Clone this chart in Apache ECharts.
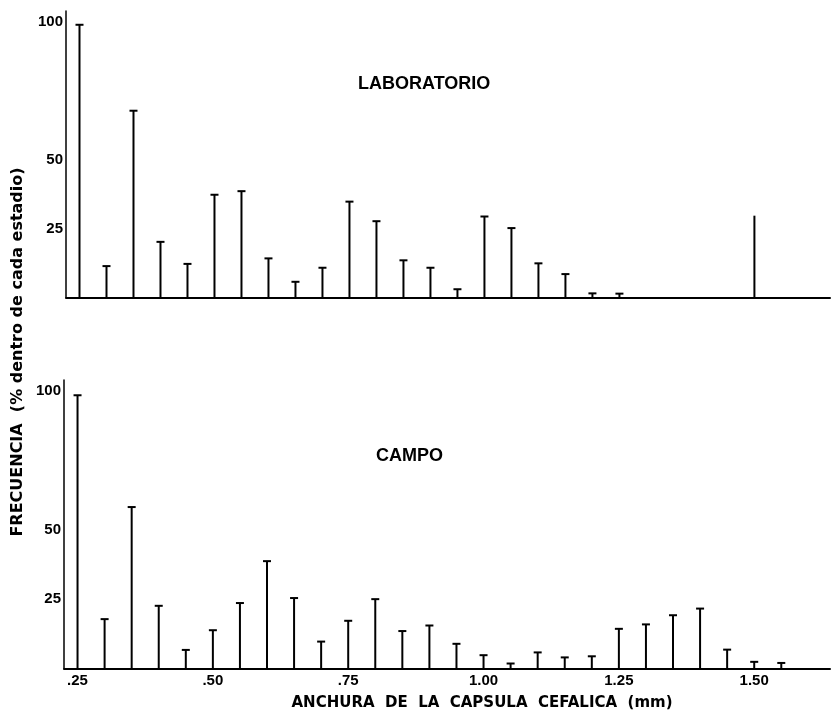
<!DOCTYPE html>
<html>
<head>
<meta charset="utf-8">
<script src="https://cdn.jsdelivr.net/npm/echarts@6/dist/echarts.min.js"></script>
<style>
  html, body { margin: 0; padding: 0; background: #fff; }
  #main { width: 831px; height: 713px; }
</style>
</head>
<body>
<div id="main"></div>
<script>
// anchura de la capsula cefalica (mm) y frecuencia (%)
var labWidths = [0.25, 0.30, 0.35, 0.40, 0.45, 0.50, 0.55, 0.60, 0.65, 0.70, 0.75,
                 0.80, 0.85, 0.90, 0.95, 1.00, 1.05, 1.10, 1.15, 1.20, 1.25, 1.50];
var labValues = [99, 11.4, 67.8, 20.2, 12.2, 37.3, 38.6, 14.2, 5.7, 10.8, 34.8,
                 27.7, 13.5, 10.8, 3.0, 29.4, 25.2, 12.4, 8.5, 1.5, 1.4, 29.7];
var labNoCap = [1.50];

var campoWidths = [0.25, 0.30, 0.35, 0.40, 0.45, 0.50, 0.55, 0.60, 0.65, 0.70, 0.75,
                   0.80, 0.85, 0.90, 0.95, 1.00, 1.05, 1.10, 1.15, 1.20, 1.25, 1.30,
                   1.35, 1.40, 1.45, 1.50, 1.55];
var campoValues = [98.5, 17.8, 58.2, 22.6, 6.7, 13.8, 23.6, 38.7, 25.4, 9.7, 17.2,
                   25.0, 13.5, 15.5, 8.9, 4.8, 1.8, 5.8, 4.0, 4.4, 14.3, 15.9,
                   19.2, 21.6, 6.8, 2.4, 2.0];

var xTickValues = [0.25, 0.50, 0.75, 1.00, 1.25, 1.50];
var xTickLabels = ['.25', '.50', '.75', '1.00', '1.25', '1.50'];
var yTickLabels = [25, 50, 100];

var FONT = '"Liberation Sans", Arial, sans-serif';
var WIDE = '"DejaVu Sans", sans-serif';

function toData(widths, values, noCap) {
    return widths.map(function (w, i) {
        return [w, values[i], noCap.indexOf(w) >= 0 ? 0 : 1];
    });
}

// palito con su tope en T
function renderStem(params, api) {
    var base = api.coord([api.value(0), 0]);
    var top = api.coord([api.value(0), api.value(1)]);
    var kids = [{
        type: 'line',
        shape: { x1: base[0], y1: base[1], x2: top[0], y2: top[1] },
        style: { stroke: '#000', lineWidth: 2 }
    }];
    if (api.value(2)) {
        kids.push({
            type: 'line',
            shape: { x1: top[0] - 4, y1: top[1], x2: top[0] + 4, y2: top[1] },
            style: { stroke: '#000', lineWidth: 2 }
        });
    }
    return { type: 'group', children: kids };
}

function xAxisOpt(idx, showLabels) {
    return {
        gridIndex: idx,
        type: 'value',
        min: 0.225,
        max: 1.64,
        splitLine: { show: false },
        axisTick: { show: false },
        axisLine: { lineStyle: { color: '#000', width: 2 } },
        axisLabel: {
            show: showLabels,
            customValues: xTickValues,
            margin: 5,
            color: '#000',
            fontFamily: FONT,
            fontWeight: 'bold',
            fontSize: 15,
            formatter: function (v) {
                var i = xTickValues.indexOf(Math.round(v * 100) / 100);
                return i >= 0 ? xTickLabels[i] : '';
            }
        }
    };
}

function yAxisOpt(idx) {
    return {
        gridIndex: idx,
        type: 'value',
        min: 0,
        max: 104,
        interval: 25,
        splitLine: { show: false },
        axisTick: { show: false },
        axisLine: { show: true, lineStyle: { color: '#000', width: 1.5 } },
        axisLabel: {
            margin: 3,
            color: '#000',
            fontFamily: FONT,
            fontWeight: 'bold',
            fontSize: 15,
            formatter: function (v) {
                return yTickLabels.indexOf(v) >= 0 ? String(v) : '';
            }
        }
    };
}

var myChart = echarts.init(document.getElementById('main'));

option = {
    backgroundColor: '#fff',
    animation: false,
    grid: [
        { left: 66, right: 1, top: 11, height: 286.5 },
        { left: 64, right: 1, top: 380, height: 288.5 }
    ],
    xAxis: [xAxisOpt(0, false), xAxisOpt(1, true)],
    yAxis: [yAxisOpt(0), yAxisOpt(1)],
    title: [
        { text: 'LABORATORIO', left: 353, top: 70,
          textStyle: { fontFamily: FONT, fontWeight: 'bold', fontSize: 18, color: '#000' } },
        { text: 'CAMPO', left: 371, top: 442,
          textStyle: { fontFamily: FONT, fontWeight: 'bold', fontSize: 18, color: '#000' } }
    ],
    graphic: [
        {
            type: 'text',
            x: 18, y: 352,
            rotation: Math.PI / 2,
            style: {
                text: 'FRECUENCIA  (% dentro de cada estadio)',
                fontFamily: WIDE, fontWeight: 'bold', fontSize: 16,
                fill: '#000', align: 'center', verticalAlign: 'middle'
            }
        },
        {
            type: 'text',
            x: 482, y: 703,
            style: {
                text: 'ANCHURA  DE  LA  CAPSULA  CEFALICA  (mm)',
                fontFamily: WIDE, fontWeight: 'bold', fontSize: 15,
                fill: '#000', align: 'center', verticalAlign: 'middle'
            }
        }
    ],
    series: [
        {
            name: 'LABORATORIO',
            type: 'custom',
            xAxisIndex: 0, yAxisIndex: 0,
            renderItem: renderStem,
            data: toData(labWidths, labValues, labNoCap)
        },
        {
            name: 'CAMPO',
            type: 'custom',
            xAxisIndex: 1, yAxisIndex: 1,
            renderItem: renderStem,
            data: toData(campoWidths, campoValues, [])
        }
    ]
};

myChart.setOption(option);
</script>
</body>
</html>
